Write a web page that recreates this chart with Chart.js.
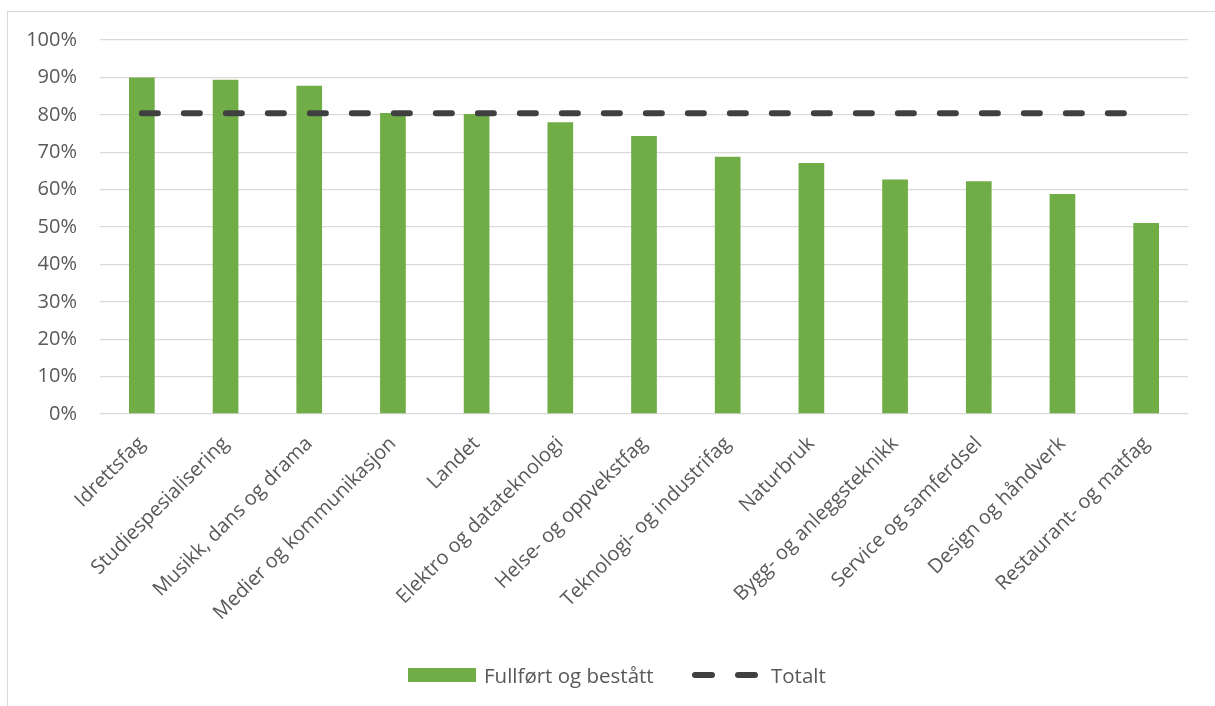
<!DOCTYPE html>
<html>
<head>
<meta charset="utf-8">
<script src="https://cdn.jsdelivr.net/npm/chart.js@4"></script>
<style>
  html, body { margin: 0; padding: 0; background: #fff; }
  body { width: 1215px; height: 706px; position: relative; overflow: hidden; font-family: 'Open Sans', sans-serif; }
  .frame { position: absolute; left: 7px; top: 11px; width: 1220px; height: 710px; border-left: 1.5px solid #d9d9d9; border-top: 1.5px solid #d9d9d9; }
  .wrap { position: absolute; left: 8px; top: 12px; width: 1207px; height: 694px; }
  .legend { position: absolute; top: 662px; left: 0; height: 26px; font-size: 20.5px; color: #595959; }
  .legend span { position: absolute; white-space: nowrap; line-height: 26px; top: 0; }
  .swatch { position: absolute; top: 6px; left: 408px; width: 68px; height: 14px; background: #70ad47; }
  .dash { position: absolute; top: 10px; height: 6px; width: 23px; border-radius: 3px; background: #404040; }
</style>
</head>
<body>
<div class="frame"></div>
<div class="wrap"><canvas id="chart"></canvas></div>
<div class="legend">
  <div class="swatch"></div>
  <span style="left:484px">Fullført og bestått</span>
  <div class="dash" style="left:692px"></div>
  <div class="dash" style="left:735px"></div>
  <span style="left:771px">Totalt</span>
</div>
<script>
// programområder
const categories = [
  'Idrettsfag',
  'Studiespesialisering',
  'Musikk, dans og drama',
  'Medier og kommunikasjon',
  'Landet',
  'Elektro og datateknologi',
  'Helse- og oppvekstfag',
  'Teknologi- og industrifag',
  'Naturbruk',
  'Bygg- og anleggsteknikk',
  'Service og samferdsel',
  'Design og håndverk',
  'Restaurant- og matfag'
];

// andel fullført og bestått (%)
const fullfort = [90.0, 89.4, 87.8, 80.5, 80.2, 78.0, 74.3, 68.8, 67.1, 62.7, 62.2, 58.8, 51.1];

// totalt for landet (%)
const totalt = [80.4, 80.4, 80.4, 80.4, 80.4, 80.4, 80.4, 80.4, 80.4, 80.4, 80.4, 80.4, 80.4];

const yTicks = [0, 10, 20, 30, 40, 50, 60, 70, 80, 90, 100];

Chart.defaults.font.family = "'Open Sans', sans-serif";
Chart.defaults.font.size = 20;
Chart.defaults.color = '#595959';

const ctx = document.getElementById('chart').getContext('2d');
new Chart(ctx, {
  data: {
    labels: categories,
    datasets: [
      {
        type: 'line',
        label: 'Totalt',
        data: totalt,
        borderColor: '#404040',
        borderWidth: 6,
        borderDash: [16, 26],
        borderCapStyle: 'round',
        pointRadius: 0,
        fill: false,
        order: 0
      },
      {
        type: 'bar',
        label: 'Fullført og bestått',
        data: fullfort,
        backgroundColor: '#70ad47',
        categoryPercentage: 1,
        barPercentage: 0.307,
        order: 1
      }
    ]
  },
  options: {
    responsive: true,
    maintainAspectRatio: false,
    animation: false,
    layout: { padding: { top: 28, right: 27, left: 0, bottom: 0 } },
    plugins: {
      legend: { display: false },
      tooltip: { enabled: false }
    },
    scales: {
      x: {
        grid: { display: false, drawTicks: false },
        border: { display: false },
        ticks: { minRotation: 45, maxRotation: 45, padding: 18, autoSkip: false },
        afterFit: s => { s.height = 292; s.paddingLeft = 0; s.paddingRight = 0; s.paddingTop = 0; }
      },
      y: {
        min: 0,
        max: 100,
        afterBuildTicks: s => { s.ticks = yTicks.map(v => ({ value: v })); },
        grid: { color: '#d9d9d9', lineWidth: 1.3, drawTicks: false },
        border: { display: false },
        ticks: { padding: 23, callback: v => v + '%' },
        afterFit: s => { s.width = 92; s.paddingTop = 0; s.paddingBottom = 0; }
      }
    }
  }
});
</script>
</body>
</html>
